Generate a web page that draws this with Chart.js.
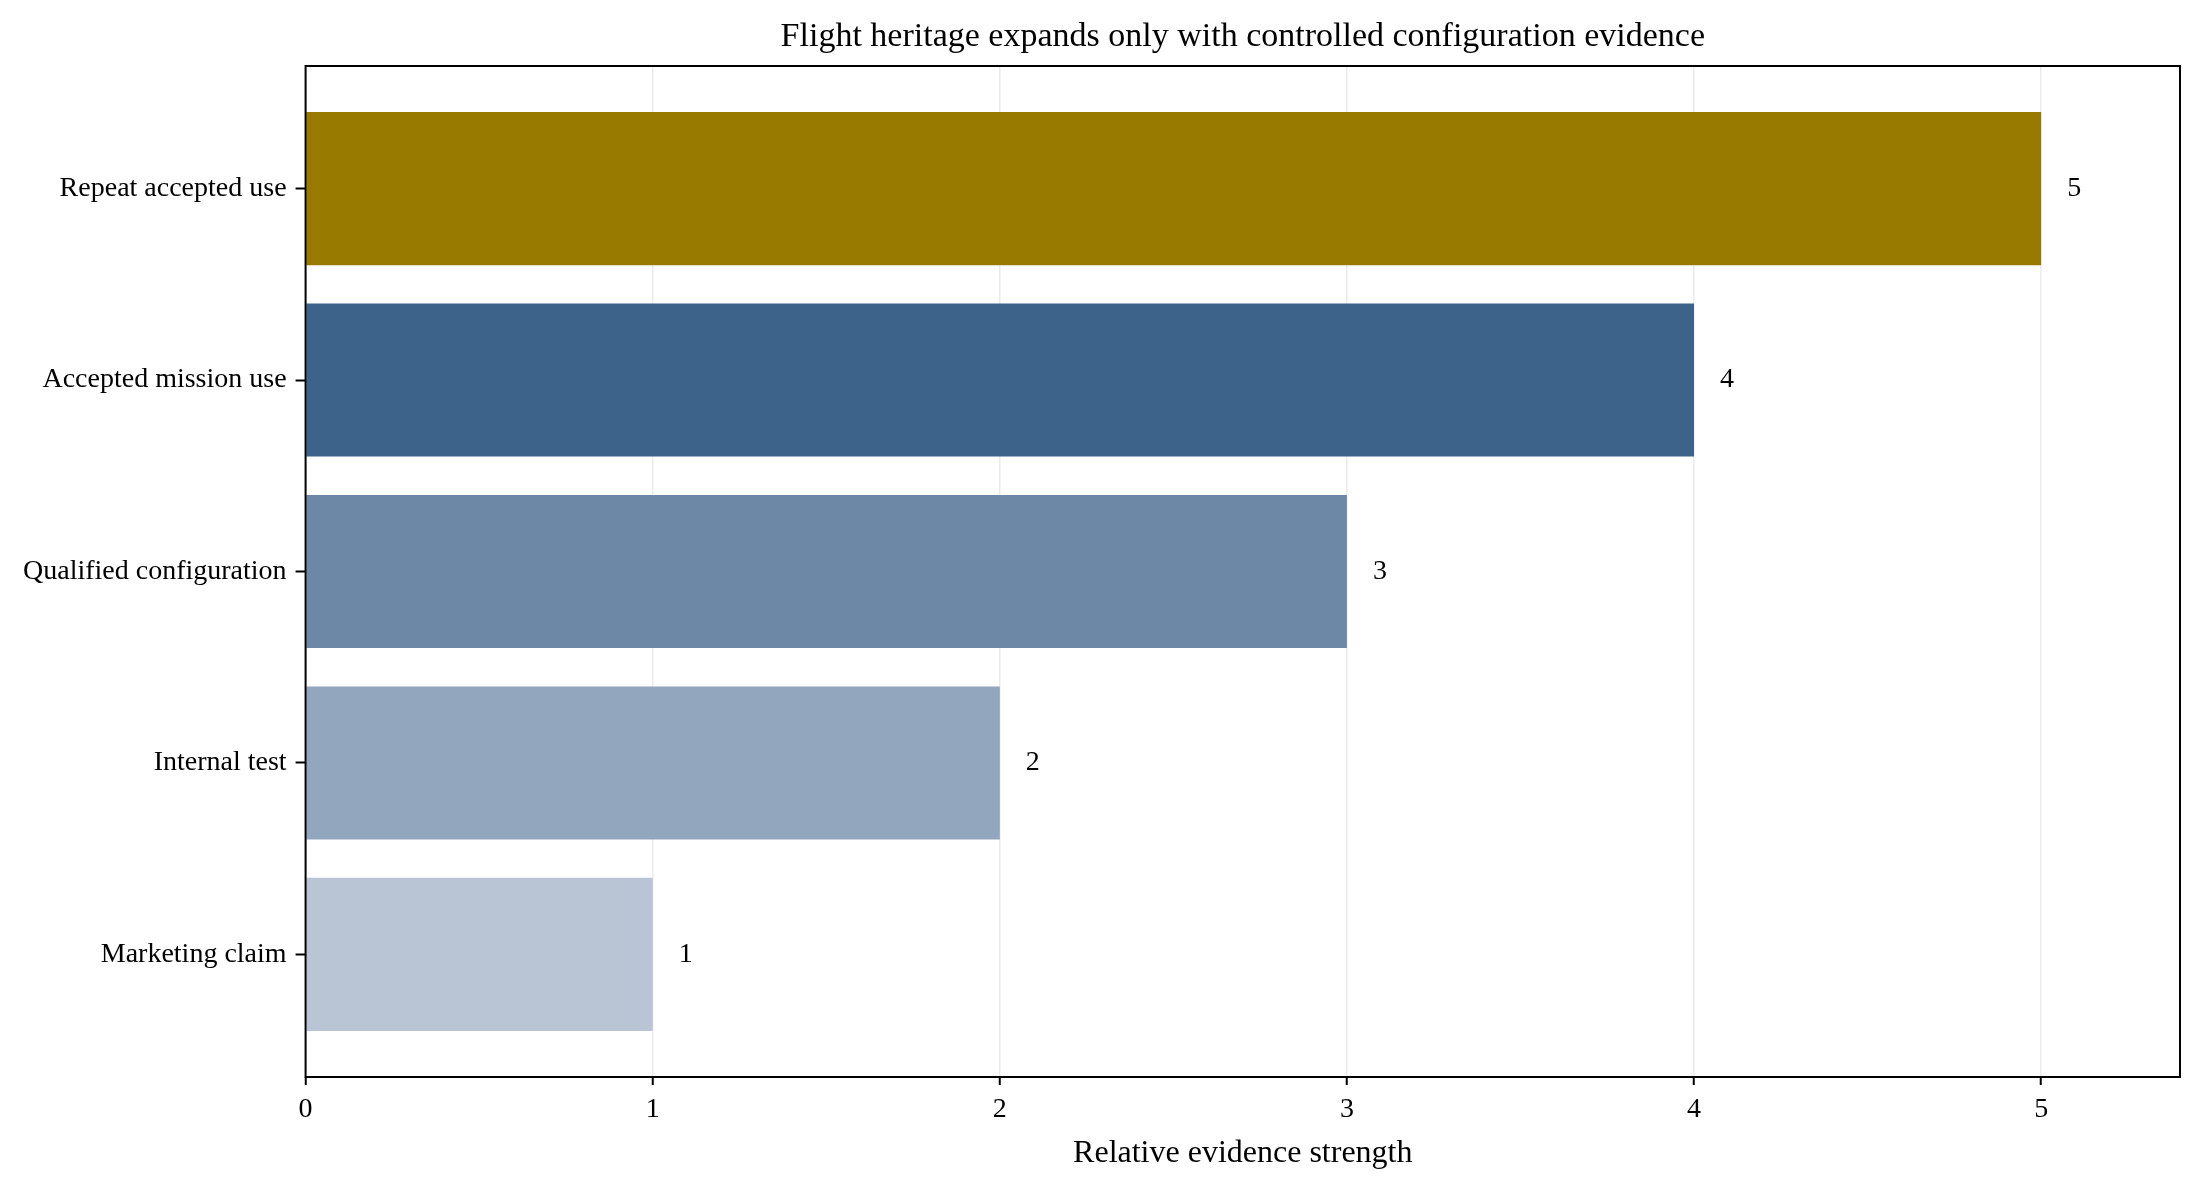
<!DOCTYPE html>
<html>
<head>
<meta charset="utf-8">
<script src="https://cdn.jsdelivr.net/npm/chart.js@4"></script>
<style>
  html, body { margin: 0; padding: 0; background: #fff; }
  #wrap { width: 2202px; height: 1187px; position: relative; }
</style>
</head>
<body>
<div id="wrap"><canvas id="chart"></canvas></div>
<script>
// Chart values (top to bottom)
const categories = ['Repeat accepted use', 'Accepted mission use', 'Qualified configuration', 'Internal test', 'Marketing claim'];
const strengths = [5, 4, 3, 2, 1];
const barColors = ['rgb(153,122,0)', 'rgb(61,99,138)', 'rgb(109,136,166)', 'rgb(146,166,189)', 'rgb(185,197,213)'];
const xTicks = [0, 1, 2, 3, 4, 5];
const chartTitle = 'Flight heritage expands only with controlled configuration evidence';

Chart.defaults.font.family = "'Liberation Serif', 'Times New Roman', serif";
Chart.defaults.color = '#000';

// Value labels at the end of each bar
const valueLabels = {
    id: 'valueLabels',
    afterDatasetsDraw(chart) {
        const ctx = chart.ctx;
        const meta = chart.getDatasetMeta(0);
        ctx.save();
        ctx.font = "28px 'Liberation Serif', serif";
        ctx.fillStyle = '#000';
        ctx.textAlign = 'left';
        ctx.textBaseline = 'middle';
        meta.data.forEach((bar, i) => {
            ctx.fillText(String(strengths[i]), bar.x + 26, bar.y);
        });
        ctx.restore();
    }
};

// Box round the plot area, and the title centred over it
const frame = {
    id: 'frame',
    afterDraw(chart) {
        const a = chart.chartArea;
        const ctx = chart.ctx;
        ctx.save();
        ctx.strokeStyle = '#000';
        ctx.lineWidth = 2;
        ctx.strokeRect(a.left, a.top, a.right - a.left, a.bottom - a.top);
        ctx.font = "34px 'Liberation Serif', serif";
        ctx.fillStyle = '#000';
        ctx.textAlign = 'center';
        ctx.textBaseline = 'middle';
        ctx.fillText(chartTitle, (a.left + a.right) / 2, a.top - 29);
        ctx.restore();
    }
};

new Chart(document.getElementById('chart'), {
    type: 'bar',
    data: {
        datasets: [{
            data: categories.map((c, i) => ({ x: strengths[i], y: i })),
            backgroundColor: barColors,
            borderWidth: 0,
            categoryPercentage: 1,
            barPercentage: 0.8
        }]
    },
    options: {
        indexAxis: 'y',
        responsive: true,
        maintainAspectRatio: false,
        devicePixelRatio: 1,
        animation: false,
        layout: { padding: { left: 14, right: 22, top: 66, bottom: 14 } },
        plugins: {
            legend: { display: false },
            tooltip: { enabled: false },
            title: { display: false }
        },
        scales: {
            x: {
                type: 'linear',
                min: 0,
                max: 5.4,
                z: 1,
                afterBuildTicks: scale => { scale.ticks = xTicks.map(v => ({ value: v })); },
                ticks: { font: { size: 28 }, padding: 8, color: '#000' },
                grid: {
                    color: 'rgba(215,215,215,0.5)',
                    lineWidth: 1.5,
                    tickColor: '#000',
                    tickLength: 8,
                    tickWidth: 2
                },
                border: { display: false },
                title: {
                    display: true,
                    text: 'Relative evidence strength',
                    font: { size: 32 },
                    color: '#000',
                    padding: { top: 0, bottom: 0 }
                }
            },
            y: {
                type: 'linear',
                reverse: true,
                offset: false,
                min: -0.64,
                max: 4.64,
                afterBuildTicks: scale => { scale.ticks = categories.map((c, i) => ({ value: i })); },
                ticks: {
                    font: { size: 28 },
                    padding: 9,
                    color: '#000',
                    callback: v => categories[v]
                },
                grid: {
                    offset: false,
                    color: 'rgba(0,0,0,0)',
                    tickColor: '#000',
                    tickLength: 10,
                    tickWidth: 2
                },
                border: { display: false }
            }
        }
    },
    plugins: [valueLabels, frame]
});
</script>
</body>
</html>
